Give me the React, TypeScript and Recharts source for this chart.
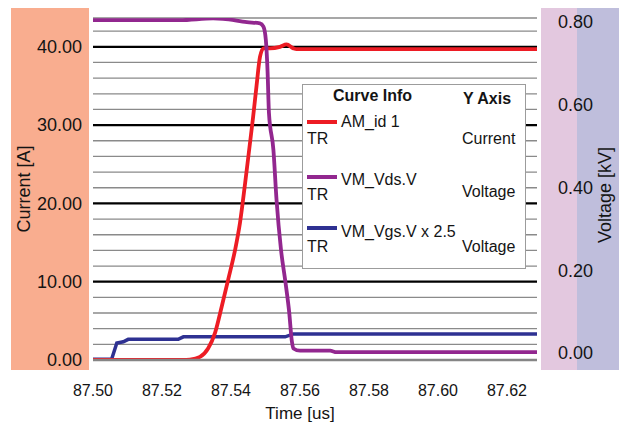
import { LineChart, Line, XAxis, YAxis, ReferenceLine, Legend, Label } from "recharts";

/* ─── Data ──────────────────────────────────────────────────── */

// AM_id 1 — drain current [A]
const idTime = [
  87.5, 87.526, 87.5281, 87.531, 87.5334, 87.5354, 87.5373, 87.5392, 87.5412,
  87.5426, 87.5441, 87.5455, 87.5464, 87.5474, 87.5484, 87.5494, 87.5513,
  87.5542, 87.5561, 87.5581, 87.559, 87.6287,
];
const idAmps = [
  0, 0, 0.05, 0.4, 1.5, 3.5, 6.8, 10.3, 14.1, 17.5, 22.6, 27.7, 31.0, 35.0,
  38.7, 39.8, 39.8, 40.0, 40.3, 39.8, 39.7, 39.7,
];

// VM_Vds.V — drain-source voltage [kV]
const vdsTime = [
  87.5, 87.5252, 87.5348, 87.5377, 87.5446, 87.5484, 87.5494, 87.5501, 87.5506,
  87.551, 87.5523, 87.5532, 87.5545, 87.5558, 87.5569, 87.5576, 87.5581, 87.56,
  87.5687, 87.5706, 87.6287,
];
const vdsKv = [
  0.804, 0.804, 0.808, 0.807, 0.799, 0.796, 0.788, 0.756, 0.68, 0.58, 0.49,
  0.37, 0.249, 0.17, 0.096, 0.031, 0.011, 0.0056, 0.0056, 0.002, 0.002,
];

// VM_Vgs.V x 2.5 — gate-source voltage [kV]
const vgsTime = [
  87.5, 87.5054, 87.5069, 87.5088, 87.5102, 87.5247, 87.5262, 87.5557, 87.5581,
  87.6287,
];
const vgsKv = [-0.015, -0.015, 0.024, 0.027, 0.033, 0.033, 0.039, 0.039, 0.046, 0.046];

const timeTicks = [87.5, 87.52, 87.54, 87.56, 87.58, 87.6, 87.62];
const currentTicks = [0, 10, 20, 30, 40];
const voltageTicks = [0, 0.2, 0.4, 0.6, 0.8];
const minorGrid = [2, 4, 6, 8, 12, 14, 16, 18, 22, 24, 26, 28, 32, 34, 36, 38, 42];

const curveNames = ["AM_id 1", "VM_Vds.V", "VM_Vgs.V x 2.5"];
const curveAxes = ["Current", "Voltage", "Voltage"];

/* ─── Look ──────────────────────────────────────────────────── */

const FONT = '"Liberation Sans", Arial, Helvetica, sans-serif';
const INK = "#141414";
const RED = "#ED1C24";
const PURPLE = "#92278F";
const BLUE = "#2E3192";
const CURVE_COLORS = [RED, PURPLE, BLUE];

const TIME_DOMAIN: [number, number] = [87.5, 87.6287];
const CURRENT_MAX = 43.68;
const VOLT_DOMAIN: [number, number] = [-0.0169, 0.809];

const zip = (t: number[], v: number[]) => t.map((x, i) => ({ t: x, v: v[i] }));

/* ─── Legend box ────────────────────────────────────────────── */

function CurveInfo() {
  const rowTop = [35, 90, 141];
  const nameTop = [29, 87, 139];
  const trTop = [46, 102, 154];
  const axisTop = [46, 99, 154];
  const txt = { position: "absolute" as const, lineHeight: "16px", whiteSpace: "nowrap" as const };
  return (
    <div
      style={{
        position: "relative",
        width: 224,
        height: 185,
        boxSizing: "border-box",
        background: "#fff",
        border: "1.5px solid #9c9c9c",
        fontFamily: FONT,
        fontSize: 16,
        color: INK,
      }}
    >
      <span style={{ ...txt, left: 30, top: 3, fontWeight: "bold" }}>Curve Info</span>
      <span style={{ ...txt, left: 160, top: 6, fontWeight: "bold" }}>Y Axis</span>
      {curveNames.map((name, i) => (
        <div key={name}>
          <div
            style={{
              position: "absolute",
              left: 4,
              top: rowTop[i],
              width: 30,
              height: 4,
              background: CURVE_COLORS[i],
            }}
          />
          <span style={{ ...txt, left: 38, top: nameTop[i] }}>{name}</span>
          <span style={{ ...txt, left: 4, top: trTop[i] }}>TR</span>
          <span style={{ ...txt, left: 159, top: axisTop[i] }}>{curveAxes[i]}</span>
        </div>
      ))}
    </div>
  );
}

/* ─── Component ─────────────────────────────────────────────── */

export default function App() {
  const panel = (left: number, width: number, bg: string) => (
    <div style={{ position: "absolute", left, top: 8, width, height: 362, background: bg }} />
  );

  return (
    <div style={{ position: "absolute", left: 0, top: 0, width: 619, height: 423, background: "#fff" }}>
      {panel(11, 78, "#F9AD8F")}
      {panel(541, 36, "#E3C8DF")}
      {panel(577, 42, "#BFBEDC")}

      <div style={{ position: "absolute", left: 0, top: 0 }}>
        <LineChart width={619} height={423} margin={{ top: 18, right: 0, bottom: 0, left: 11 }}>
          <XAxis
            dataKey="t"
            type="number"
            domain={TIME_DOMAIN}
            allowDataOverflow
            ticks={timeTicks}
            tickFormatter={(v: number) => v.toFixed(2)}
            tick={{ fill: INK, fontSize: 16, fontFamily: FONT }}
            tickLine={false}
            tickSize={0}
            tickMargin={25}
            axisLine={{ stroke: "#858585", strokeWidth: 2.5 }}
            height={63}
          >
            <Label
              content={({ viewBox }: any) => (
                <text
                  x={viewBox.x + 207}
                  y={413}
                  textAnchor="middle"
                  dominantBaseline="central"
                  fill={INK}
                  fontSize={17}
                  fontFamily={FONT}
                >
                  Time [us]
                </text>
              )}
            />
          </XAxis>

          <YAxis
            yAxisId="current"
            orientation="left"
            type="number"
            domain={[0, CURRENT_MAX]}
            allowDataOverflow
            ticks={currentTicks}
            tickFormatter={(v: number) => v.toFixed(2)}
            tick={{ fill: INK, fontSize: 18, fontFamily: FONT }}
            tickLine={false}
            tickSize={0}
            tickMargin={11}
            axisLine={false}
            width={82}
          >
            <Label
              content={({ viewBox }: any) => {
                const cx = viewBox.x + 13;
                const cy = viewBox.y + viewBox.height / 2;
                return (
                  <text
                    x={cx}
                    y={cy}
                    transform={`rotate(-90 ${cx} ${cy})`}
                    textAnchor="middle"
                    dominantBaseline="central"
                    fill={INK}
                    fontSize={18}
                    fontFamily={FONT}
                  >
                    Current [A]
                  </text>
                );
              }}
            />
          </YAxis>

          <YAxis
            yAxisId="voltage"
            orientation="right"
            type="number"
            domain={VOLT_DOMAIN}
            allowDataOverflow
            ticks={voltageTicks}
            tickFormatter={(v: number) => v.toFixed(2)}
            tick={{ fill: INK, fontSize: 18, fontFamily: FONT, textAnchor: "start" }}
            tickLine={false}
            tickSize={0}
            tickMargin={21}
            axisLine={false}
            width={82}
          >
            <Label
              content={({ viewBox }: any) => {
                const cx = viewBox.x + 68;
                const cy = viewBox.y + viewBox.height / 2 + 6;
                return (
                  <text
                    x={cx}
                    y={cy}
                    transform={`rotate(-90 ${cx} ${cy})`}
                    textAnchor="middle"
                    dominantBaseline="central"
                    fill={INK}
                    fontSize={18}
                    fontFamily={FONT}
                  >
                    Voltage [kV]
                  </text>
                );
              }}
            />
          </YAxis>

          {/* grid: thin grey every 2 A, black every 10 A */}
          {minorGrid.map((y) => (
            <ReferenceLine key={`g${y}`} yAxisId="current" y={y} stroke="#8a8a8a" strokeWidth={1.3} />
          ))}
          <ReferenceLine yAxisId="current" y={CURRENT_MAX} stroke="#8a8a8a" strokeWidth={1.3} />
          {currentTicks.slice(1).map((y) => (
            <ReferenceLine key={`b${y}`} yAxisId="current" y={y} stroke="#000" strokeWidth={2.2} />
          ))}

          <Line
            data={zip(vgsTime, vgsKv)}
            dataKey="v"
            yAxisId="voltage"
            type="linear"
            stroke={BLUE}
            strokeWidth={3.5}
            dot={false}
            isAnimationActive={false}
            name={curveNames[2]}
          />
          <Line
            data={zip(idTime, idAmps)}
            dataKey="v"
            yAxisId="current"
            type="monotone"
            stroke={RED}
            strokeWidth={3.8}
            dot={false}
            isAnimationActive={false}
            name={curveNames[0]}
          />
          <Line
            data={zip(vdsTime, vdsKv)}
            dataKey="v"
            yAxisId="voltage"
            type="monotone"
            stroke={PURPLE}
            strokeWidth={3.8}
            dot={false}
            isAnimationActive={false}
            name={curveNames[1]}
          />

          <Legend
            layout="horizontal"
            verticalAlign="middle"
            align="center"
            content={() => <CurveInfo />}
            wrapperStyle={{ left: 302, top: 84, width: 224, height: 185 }}
          />
        </LineChart>
      </div>
    </div>
  );
}
